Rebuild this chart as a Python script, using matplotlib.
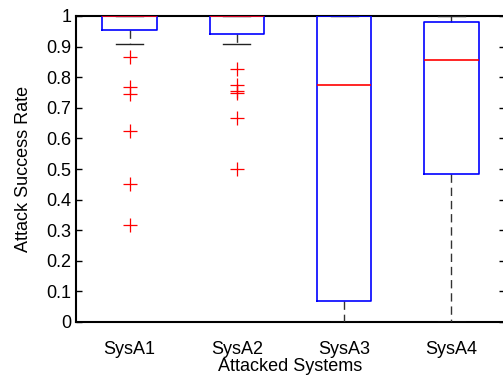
import matplotlib
matplotlib.use('Agg')
import matplotlib.pyplot as plt

plt.rcParams['font.family'] = ['Liberation Sans', 'DejaVu Sans']

systems = ['SysA1', 'SysA2', 'SysA3', 'SysA4']
q1 = [0.955, 0.941, 0.07, 0.484]
med = [1.0, 1.0, 0.773, 0.855]
q3 = [1.0, 1.0, 1.0, 0.980]
whislo = [0.909, 0.909, 0.0, 0.0]
whishi = [1.0, 1.0, 1.0, 1.0]
fliers = [
    [0.865, 0.767, 0.744, 0.623, 0.452, 0.317],
    [0.827, 0.775, 0.756, 0.750, 0.667, 0.499],
    [],
    [],
]

stats = []
for i, name in enumerate(systems):
    stats.append(dict(label=name, q1=q1[i], med=med[i], q3=q3[i],
                      whislo=whislo[i], whishi=whishi[i], fliers=fliers[i]))

fig = plt.figure(figsize=(5.03, 3.8), dpi=100)
ax = fig.add_axes([76 / 503, 58 / 380, 429 / 503, 306 / 380])

parts = ax.bxp(stats, widths=0.51,
               boxprops=dict(color='blue', linewidth=1.2),
               medianprops=dict(color='red', linewidth=1.2),
               whiskerprops=dict(color='#333333', linewidth=1.0,
                                 linestyle=(0, (6, 3.5))),
               capprops=dict(color='#222222', linewidth=1.0),
               flierprops=dict(marker='+', markeredgecolor='red',
                               markersize=10, markeredgewidth=0.9),
               capwidths=0.25)
# caps/whiskers under boxes, medians on top
for ln in parts['caps'] + parts['whiskers']:
    ln.set_zorder(1.5)
for ln in parts['boxes']:
    ln.set_zorder(2.5)
for ln in parts['medians']:
    ln.set_zorder(3.5)

ax.set_xlim(0.5, 4.5)
ax.set_ylim(0, 1)
ax.set_yticks([i / 10 for i in range(11)])
ax.set_yticklabels(['0'] + ['0.%d' % i for i in range(1, 10)] + ['1'])
ax.tick_params(axis='y', direction='in', length=4, width=1,
               right=True, labelsize=13)
ax.tick_params(axis='x', length=0, labelsize=13, pad=14)
for s in ax.spines.values():
    s.set_linewidth(1.5)
    s.set_zorder(1)

ax.set_xlabel('Attacked Systems', fontsize=13, labelpad=0)
ax.set_ylabel('Attack Success Rate', fontsize=13, labelpad=10)

fig.savefig('out.png', dpi=100)
